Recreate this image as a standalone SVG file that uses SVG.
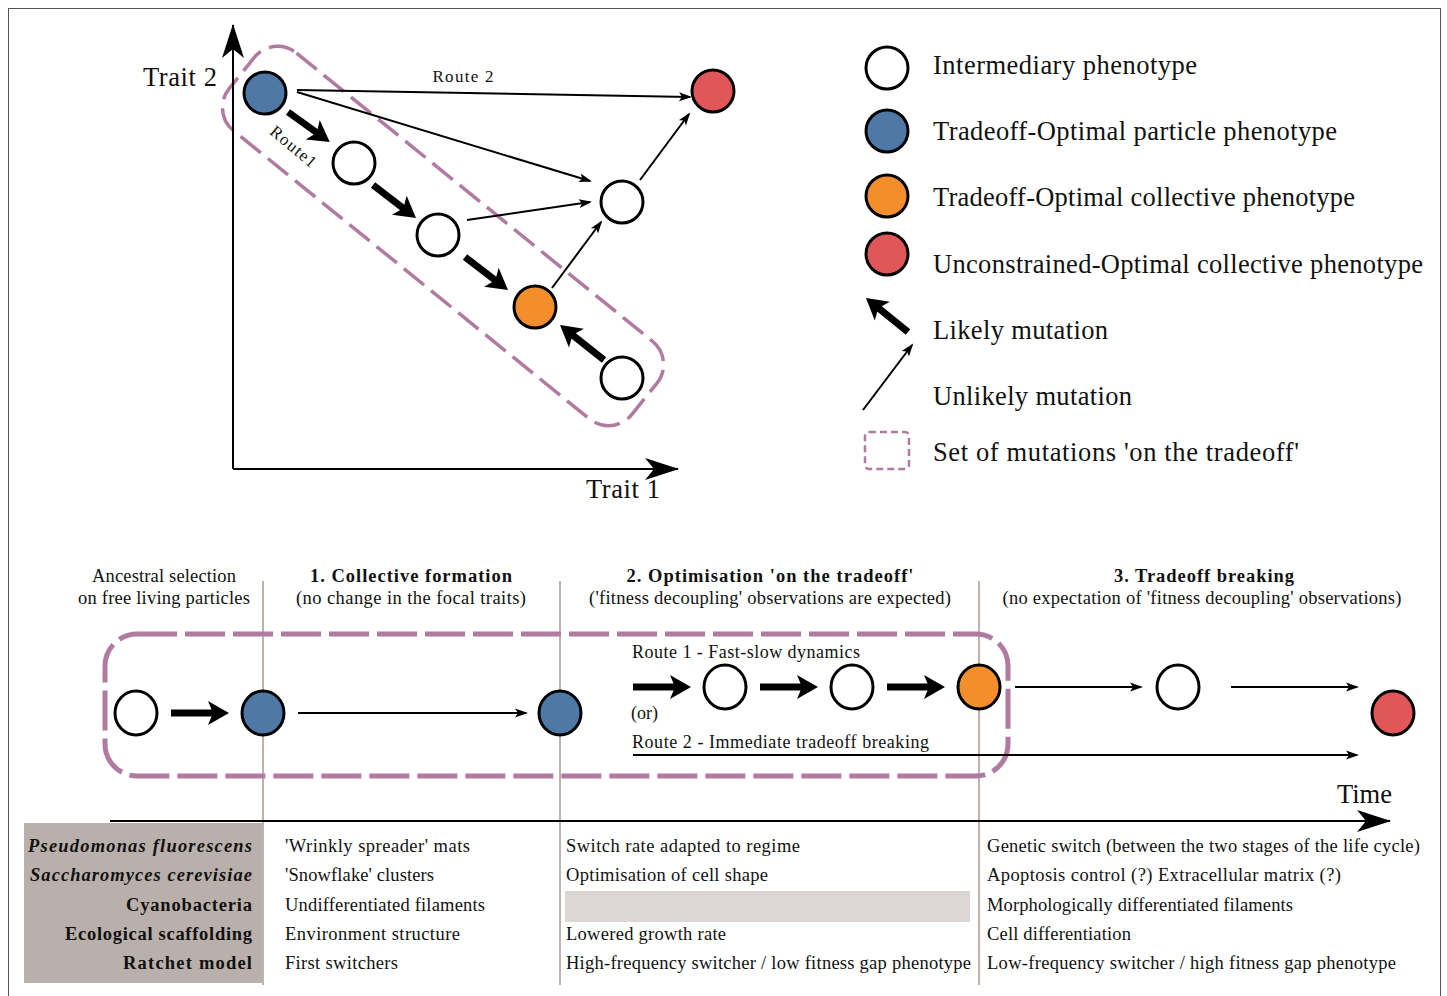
<svg xmlns="http://www.w3.org/2000/svg" width="1447" height="996" viewBox="0 0 1447 996">
<style>
text{font-family:"Liberation Serif","DejaVu Serif",serif;fill:#111}
.big{font-size:26.5px}
.sm{font-size:18.5px}
.xs{font-size:17px}
.rt{font-size:18px}
.b{font-weight:bold}
.bi{font-weight:bold;font-style:italic}
.node{stroke:#000;stroke-width:3}
.w{fill:#fff}.bl{fill:#4e79a7}.or{fill:#f28e2b}.rd{fill:#e15759}
.thin{stroke:#000;stroke-width:2;fill:none;marker-end:url(#mThin)}
.thick{stroke:#000;stroke-width:7;fill:none;marker-end:url(#mThick)}
.axis{stroke:#000;stroke-width:2;fill:none;marker-end:url(#mAxis)}
.sep{stroke:#bdb2ae;stroke-width:2}
</style>
<defs>
<marker id="mThin" markerUnits="userSpaceOnUse" markerWidth="30" markerHeight="20" viewBox="-15 -10 30 20" refX="0" refY="0" orient="auto"><path d="M2,0 L-11,-4.5 L-8,0 L-11,4.5 Z" fill="#000"/></marker>
<marker id="mThick" markerUnits="userSpaceOnUse" markerWidth="45" markerHeight="30" viewBox="-25 -15 45 30" refX="0" refY="0" orient="auto"><path d="M12,0 L-9,-12 L-4,0 L-9,12 Z" fill="#000"/></marker>
<marker id="mAxis" markerUnits="userSpaceOnUse" markerWidth="50" markerHeight="30" viewBox="-40 -15 50 30" refX="0" refY="0" orient="auto"><path d="M1,0 L-33,-11 L-24,0 L-33,11 Z" fill="#000"/></marker>
</defs>
<rect x="8.5" y="8.5" width="1432" height="1000" fill="#fff" stroke="#555" stroke-width="1"/>

<!-- Top plot -->
<g id="tradeoff-set">
<rect x="-259" y="-50" width="518" height="100" rx="30" transform="translate(443,236) rotate(39)" fill="none" stroke="#b07aa1" stroke-width="3.5" stroke-dasharray="26 9"/>
</g>
<g id="axes">
<line class="axis" x1="233" y1="469" x2="233" y2="25"/>
<line class="axis" x1="233" y1="469" x2="678" y2="469"/>
<text class="big" x="143" y="86" textLength="74">Trait 2</text>
<text class="big" x="586" y="498" textLength="74">Trait 1</text>
</g>
<g id="connectors-top">
<line class="thin" x1="297" y1="90" x2="690" y2="97"/>
<line class="thin" x1="297" y1="92" x2="590" y2="181"/>
<line class="thin" x1="467" y1="220" x2="590" y2="202"/>
<line class="thin" x1="552" y1="288" x2="601" y2="222"/>
<line class="thin" x1="640" y1="180" x2="689" y2="114"/>
<line class="thick" x1="288" y1="112" x2="320" y2="135"/>
<line class="thick" x1="373" y1="185" x2="406.5" y2="210.7"/>
<line class="thick" x1="465" y1="257" x2="498.5" y2="282.7"/>
<line class="thick" x1="604" y1="360" x2="569.4" y2="332.5"/>
<text class="xs" x="463" y="82" text-anchor="middle" textLength="61">Route 2</text>
<text class="xs" x="0" y="5" text-anchor="middle" textLength="55" transform="translate(293,147) rotate(40)">Route1</text>
</g>
<g id="n-blue-top"><circle class="node bl" cx="265" cy="93" r="21"/></g>
<g id="n-red-top"><circle class="node rd" cx="713" cy="91" r="21"/></g>
<g id="n-w1"><circle class="node w" cx="354" cy="163" r="21"/></g>
<g id="n-w2"><circle class="node w" cx="438" cy="235" r="21"/></g>
<g id="n-wr"><circle class="node w" cx="622" cy="202" r="21"/></g>
<g id="n-orange-top"><circle class="node or" cx="535" cy="307" r="21"/></g>
<g id="n-wb"><circle class="node w" cx="622" cy="378" r="21"/></g>

<!-- Legend -->
<g id="legend">
<circle class="node w" cx="887" cy="68" r="21"/>
<circle class="node bl" cx="887" cy="131" r="21"/>
<circle class="node or" cx="887" cy="196" r="21"/>
<circle class="node rd" cx="887" cy="254" r="21"/>
<line class="thick" x1="908" y1="332" x2="875.3" y2="305.5"/>
<line class="thin" x1="863" y1="410" x2="912" y2="345"/>
<rect x="865" y="432" width="44" height="37" rx="4" fill="none" stroke="#b07aa1" stroke-width="2.5" stroke-dasharray="7 4"/>
<text class="big" x="933" y="74" textLength="264">Intermediary phenotype</text>
<text class="big" x="933" y="140" textLength="404">Tradeoff-Optimal particle phenotype</text>
<text class="big" x="933" y="206" textLength="422">Tradeoff-Optimal collective phenotype</text>
<text class="big" x="933" y="273" textLength="490">Unconstrained-Optimal collective phenotype</text>
<text class="big" x="933" y="339" textLength="175">Likely mutation</text>
<text class="big" x="933" y="405" textLength="199">Unlikely mutation</text>
<text class="big" x="933" y="461" textLength="366">Set of mutations 'on the tradeoff'</text>
</g>

<!-- Timeline -->
<g id="headers">
<text class="sm" x="164" y="582" text-anchor="middle" textLength="144">Ancestral selection</text>
<text class="sm" x="164" y="604" text-anchor="middle" textLength="172">on free living particles</text>
<text class="sm b" x="411" y="582" text-anchor="middle" textLength="202">1. Collective formation</text>
<text class="sm" x="411" y="604" text-anchor="middle" textLength="230">(no change in the focal traits)</text>
<text class="sm b" x="770" y="582" text-anchor="middle" textLength="287">2. Optimisation 'on the tradeoff'</text>
<text class="sm" x="770" y="604" text-anchor="middle" textLength="362">('fitness decoupling' observations are expected)</text>
<text class="sm b" x="1204" y="582" text-anchor="middle" textLength="180">3. Tradeoff breaking</text>
<text class="sm" x="1202" y="604" text-anchor="middle" textLength="399">(no expectation of 'fitness decoupling' observations)</text>
</g>
<g id="table-bg">
<rect x="24" y="823" width="239" height="160" fill="#b9b0ab"/>
<rect x="565" y="891" width="405" height="31" fill="#dcd7d5"/>
</g>
<g id="separators">
<line class="sep" x1="263" y1="581" x2="263" y2="985"/>
<line class="sep" x1="560" y1="581" x2="560" y2="985"/>
<line class="sep" x1="979" y1="581" x2="979" y2="985"/>
</g>
<g id="timeline-set">
<rect x="105" y="634" width="903" height="142" rx="32" fill="none" stroke="#b07aa1" stroke-width="5" stroke-dasharray="40 8"/>
</g>
<g id="connectors-timeline">
<line class="thick" x1="171" y1="713" x2="217" y2="713"/>
<line class="thin" x1="298" y1="713" x2="526" y2="713"/>
<line class="thick" x1="633" y1="687" x2="679" y2="687"/>
<line class="thick" x1="760" y1="687" x2="806" y2="687"/>
<line class="thick" x1="887" y1="687" x2="933" y2="687"/>
<line class="thin" x1="1015" y1="687" x2="1141" y2="687"/>
<line class="thin" x1="1231" y1="687" x2="1357" y2="687"/>
<line class="thin" x1="633" y1="755" x2="1357" y2="755" stroke-width="2.5"/>
<line class="axis" x1="110" y1="821" x2="1390" y2="821"/>
<text class="rt" x="632" y="658" textLength="228">Route 1 - Fast-slow dynamics</text>
<text class="rt" x="631" y="719" textLength="27">(or)</text>
<text class="rt" x="632" y="748" textLength="297">Route 2 - Immediate tradeoff breaking</text>
<text class="big" x="1337" y="803" textLength="55">Time</text>
</g>
<g id="t-w0"><ellipse class="node w" cx="136" cy="713" rx="21" ry="22"/></g>
<g id="t-b1"><ellipse class="node bl" cx="263" cy="713" rx="21" ry="22"/></g>
<g id="t-b2"><ellipse class="node bl" cx="560" cy="713" rx="21" ry="22"/></g>
<g id="t-w1"><ellipse class="node w" cx="725" cy="687" rx="21" ry="22"/></g>
<g id="t-w2"><ellipse class="node w" cx="852" cy="687" rx="21" ry="22"/></g>
<g id="t-o"><ellipse class="node or" cx="979" cy="687" rx="21" ry="22"/></g>
<g id="t-w3"><ellipse class="node w" cx="1178" cy="687" rx="21" ry="22"/></g>
<g id="t-r"><ellipse class="node rd" cx="1393" cy="713" rx="21" ry="22"/></g>

<!-- Table -->
<g id="table">
<text class="sm bi" x="252" y="852" text-anchor="end" textLength="224">Pseudomonas fluorescens</text>
<text class="sm bi" x="252" y="881" text-anchor="end" textLength="222">Saccharomyces cerevisiae</text>
<text class="sm b" x="252" y="911" text-anchor="end" textLength="126">Cyanobacteria</text>
<text class="sm b" x="252" y="940" text-anchor="end" textLength="187">Ecological scaffolding</text>
<text class="sm b" x="252" y="969" text-anchor="end" textLength="129">Ratchet model</text>
<text class="sm" x="285" y="852" textLength="185">'Wrinkly spreader' mats</text>
<text class="sm" x="285" y="881" textLength="149">'Snowflake' clusters</text>
<text class="sm" x="285" y="911" textLength="200">Undifferentiated filaments</text>
<text class="sm" x="285" y="940" textLength="175">Environment structure</text>
<text class="sm" x="285" y="969" textLength="113">First switchers</text>
<text class="sm" x="566" y="852" textLength="234">Switch rate adapted to regime</text>
<text class="sm" x="566" y="881" textLength="202">Optimisation of cell shape</text>
<text class="sm" x="566" y="940" textLength="160">Lowered growth rate</text>
<text class="sm" x="566" y="969" textLength="405">High-frequency switcher / low fitness gap phenotype</text>
<text class="sm" x="987" y="852" textLength="433">Genetic switch (between the two stages of the life cycle)</text>
<text class="sm" x="987" y="881" textLength="354">Apoptosis control (?) Extracellular matrix (?)</text>
<text class="sm" x="987" y="911" textLength="306">Morphologically differentiated filaments</text>
<text class="sm" x="987" y="940" textLength="144">Cell differentiation</text>
<text class="sm" x="987" y="969" textLength="409">Low-frequency switcher / high fitness gap phenotype</text>
</g>
</svg>
